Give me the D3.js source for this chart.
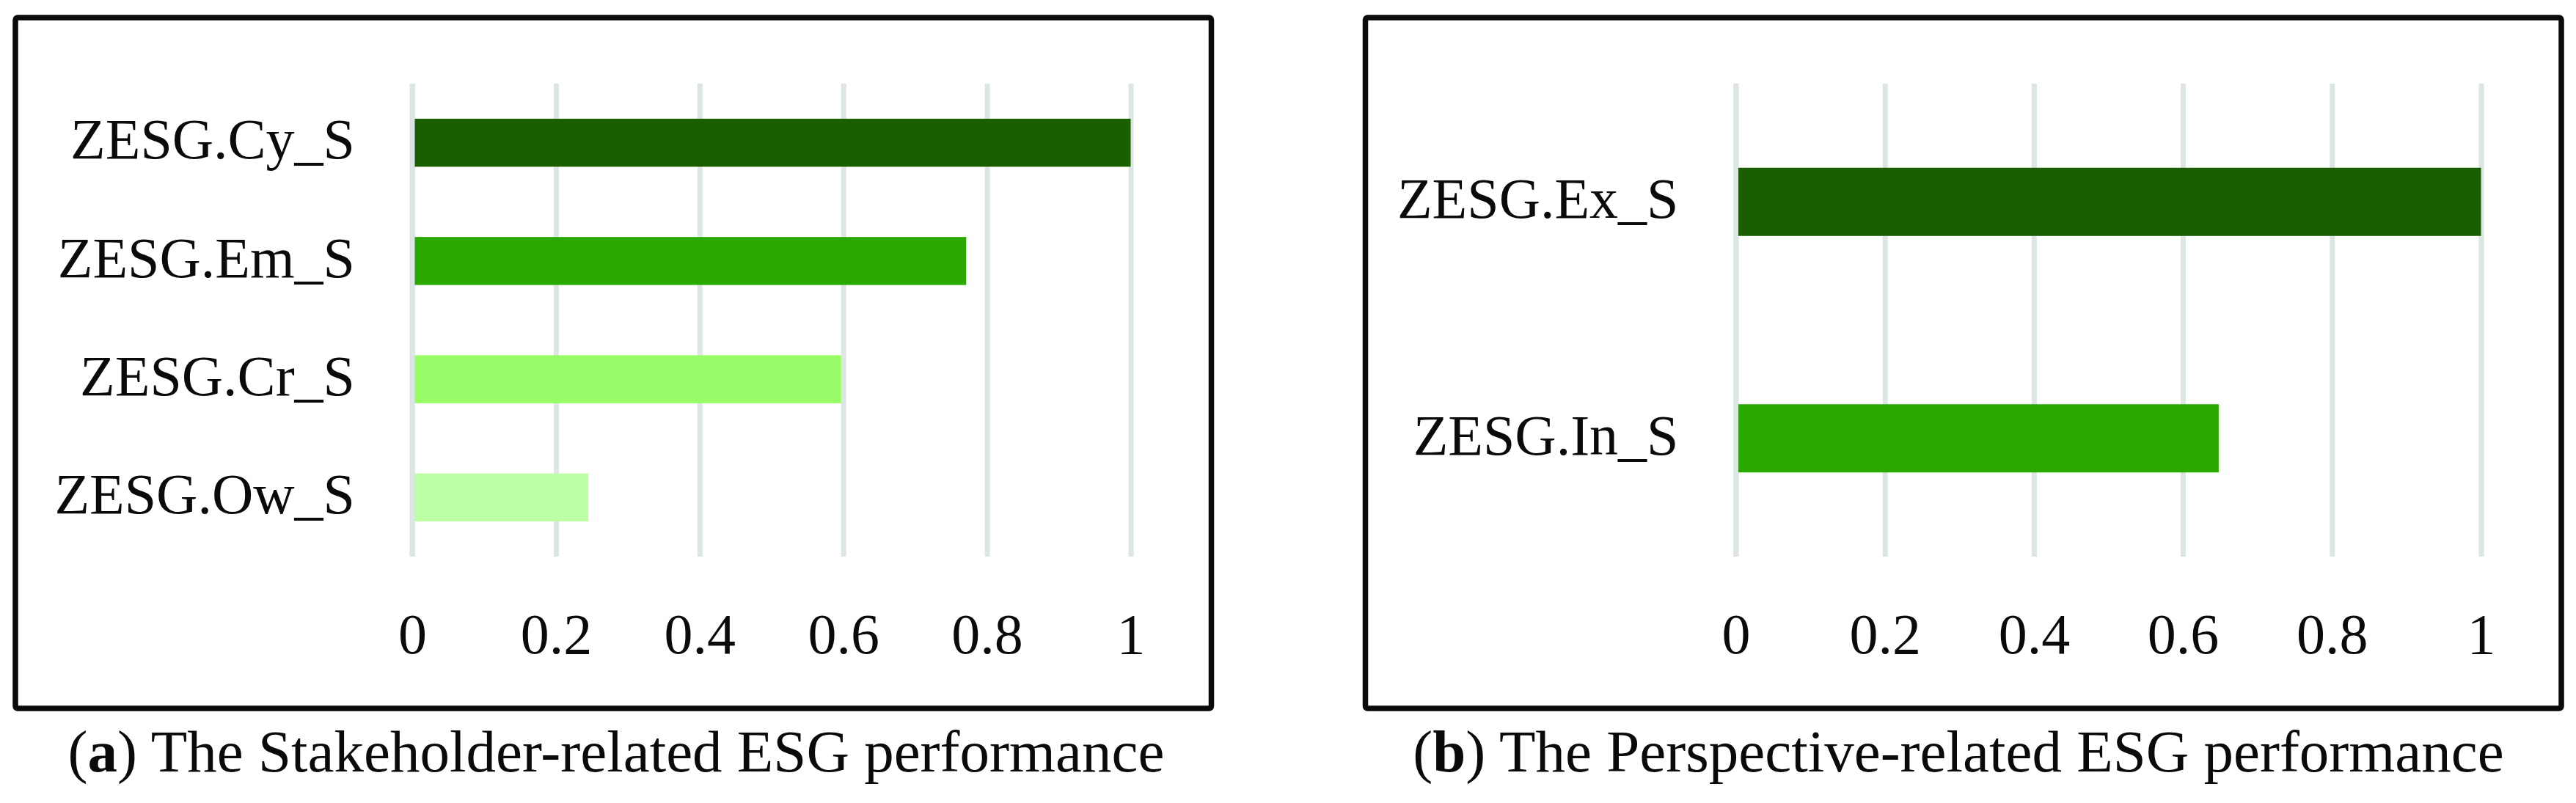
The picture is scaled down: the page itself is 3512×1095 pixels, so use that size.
<!DOCTYPE html>
<html>
<head>
<meta charset="utf-8">
<script src="https://cdn.jsdelivr.net/npm/d3@7"></script>
<style>
  html, body { margin: 0; padding: 0; background: #fff; }
  svg { display: block; }
  text { font-family: "Liberation Serif", "Times New Roman", serif; fill: #0a0a0a; }
</style>
</head>
<body>
<svg id="chart"></svg>
<script>
// chart values
const stakeholderCategories = ["ZESG.Cy_S", "ZESG.Em_S", "ZESG.Cr_S", "ZESG.Ow_S"];
const stakeholderValues = [1.0, 0.771, 0.597, 0.245];
const perspectiveCategories = ["ZESG.Ex_S", "ZESG.In_S"];
const perspectiveValues = [1.0, 0.648];
const xTickValues = [0, 0.2, 0.4, 0.6, 0.8, 1];
const captionLetters = ["a", "b"];
const captionTexts = [
  ") The Stakeholder-related ESG performance",
  ") The Perspective-related ESG performance",
];

const stakeholderColors = ["#1b5e00", "#2ba800", "#98fc69", "#bdffa4"];
const perspectiveColors = ["#1b5e00", "#2ba800"];

const width = 3512;
const height = 1095;
const gridColor = "#dce6e4";

const svg = d3
  .select("#chart")
  .attr("width", width)
  .attr("height", height);

svg.append("rect").attr("width", width).attr("height", height).attr("fill", "#fff");

const drawPanel = (cfg) => {
  const g = svg.append("g");

  const x = d3.scaleLinear().domain([0, 1]).range([cfg.left, cfg.right]);
  const y = d3
    .scaleBand()
    .domain(cfg.categories)
    .range([cfg.top, cfg.bottom])
    .paddingInner(cfg.gap)
    .paddingOuter(cfg.gap / 2);

  // vertical gridlines
  const grid = g
    .append("g")
    .attr("transform", `translate(0,${cfg.bottom})`)
    .call(
      d3
        .axisBottom(x)
        .tickValues(xTickValues)
        .tickSize(-(cfg.bottom - cfg.top))
        .tickFormat("")
    );
  grid.select(".domain").remove();
  grid.selectAll("line").attr("stroke", gridColor).attr("stroke-width", 7);

  // bars
  g.selectAll("rect.bar")
    .data(cfg.values)
    .join("rect")
    .attr("class", "bar")
    .attr("x", x(0))
    .attr("y", (d, i) => y(cfg.categories[i]))
    .attr("width", (d) => x(d) - x(0))
    .attr("height", y.bandwidth())
    .attr("fill", (d, i) => cfg.colors[i]);

  // zero line sits over the bars
  g.append("line")
    .attr("x1", x(0))
    .attr("x2", x(0))
    .attr("y1", cfg.top)
    .attr("y2", cfg.bottom)
    .attr("stroke", gridColor)
    .attr("stroke-width", 7);

  // value labels under the plot
  const xAxis = g
    .append("g")
    .attr("transform", `translate(0,${cfg.bottom})`)
    .call(
      d3
        .axisBottom(x)
        .tickValues(xTickValues)
        .tickSize(0)
        .tickPadding(77)
        .tickFormat((d) => String(d))
    );
  xAxis.select(".domain").remove();
  xAxis
    .selectAll("text")
    .attr("font-size", "78px")
    .attr("font-family", null)
    .attr("fill", "#0a0a0a");

  // category labels
  const yAxis = g
    .append("g")
    .attr("transform", `translate(${cfg.left},0)`)
    .call(d3.axisLeft(y).tickSize(0).tickPadding(78));
  yAxis.select(".domain").remove();
  yAxis
    .selectAll("text")
    .attr("font-size", "78px")
    .attr("font-family", null)
    .attr("fill", "#0a0a0a")
    .attr("dy", "0.28em");

  // frame
  g.append("rect")
    .attr("x", cfg.box[0])
    .attr("y", cfg.box[1])
    .attr("width", cfg.box[2] - cfg.box[0])
    .attr("height", cfg.box[3] - cfg.box[1])
    .attr("rx", 3)
    .attr("fill", "none")
    .attr("stroke", "#0a0a0a")
    .attr("stroke-width", 7.5);

  // caption
  const caption = g
    .append("text")
    .attr("x", cfg.captionX)
    .attr("y", 1052)
    .attr("text-anchor", "middle")
    .attr("font-size", "81px");
  caption.append("tspan").text("(");
  caption.append("tspan").attr("font-weight", "bold").text(cfg.letter);
  caption.append("tspan").text(cfg.caption);
};

drawPanel({
  categories: stakeholderCategories,
  values: stakeholderValues,
  colors: stakeholderColors,
  left: 562,
  right: 1541.5,
  top: 114,
  bottom: 759,
  gap: 0.594,
  box: [21, 24, 1651.5, 966],
  captionX: 840,
  letter: captionLetters[0],
  caption: captionTexts[0],
});

drawPanel({
  categories: perspectiveCategories,
  values: perspectiveValues,
  colors: perspectiveColors,
  left: 2366.5,
  right: 3382.5,
  top: 114,
  bottom: 759,
  gap: 0.7116,
  box: [1861.5, 24, 3492, 966],
  captionX: 2670,
  letter: captionLetters[1],
  caption: captionTexts[1],
});
</script>
</body>
</html>
